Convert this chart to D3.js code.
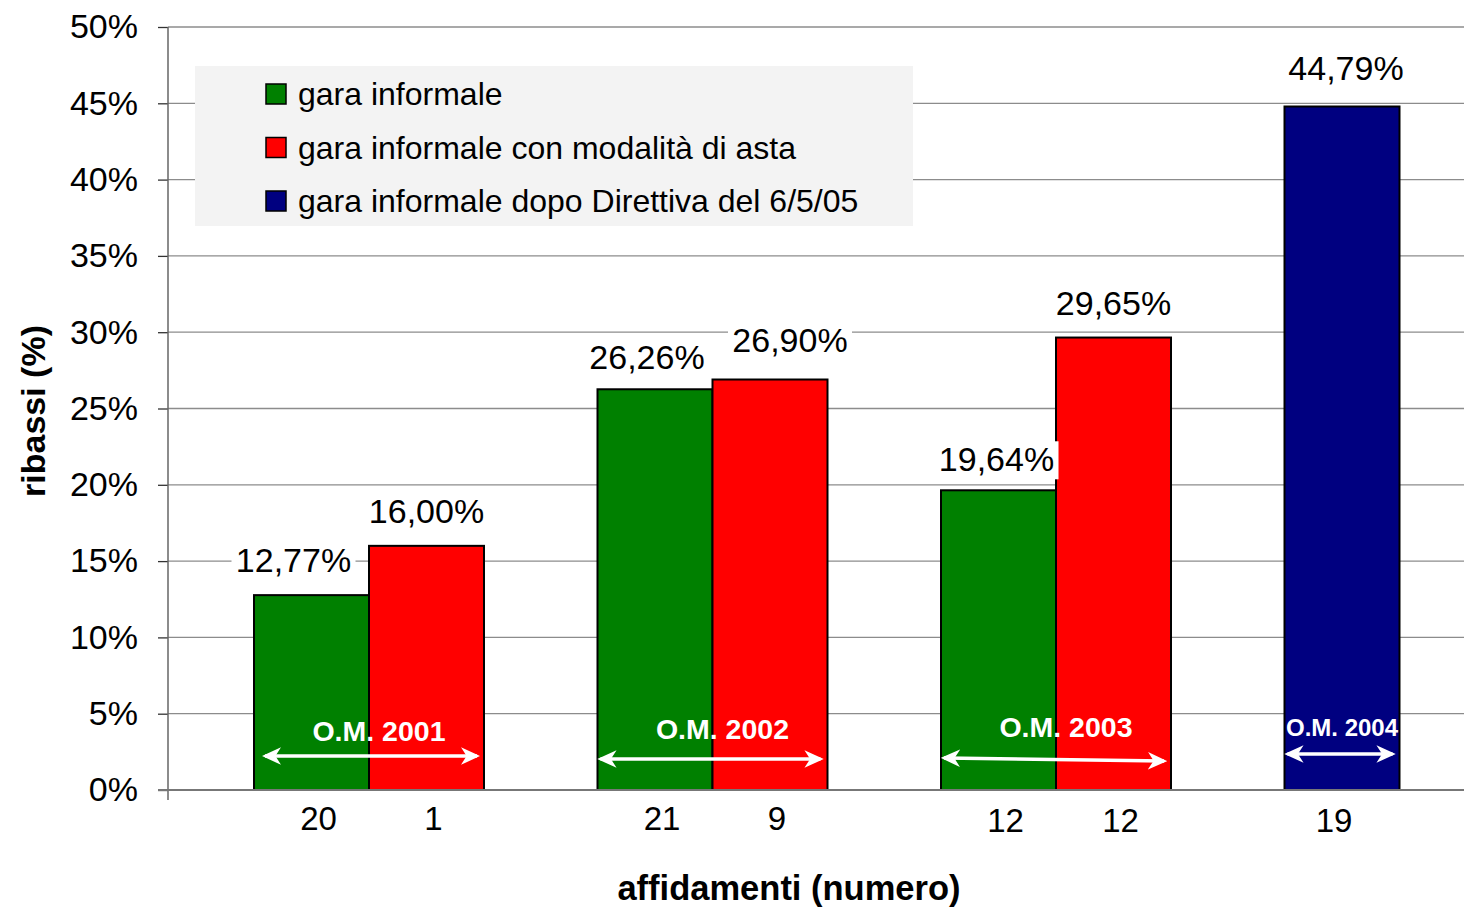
<!DOCTYPE html>
<html>
<head>
<meta charset="utf-8">
<script src="https://cdn.jsdelivr.net/npm/d3@7"></script>
<style>
  body { margin: 0; background: #fff; }
  text { font-family: "Liberation Sans", Arial, sans-serif; }
</style>
</head>
<body>
<div class="container"></div>
<script>
// chart values
var groups = ["O.M. 2001", "O.M. 2002", "O.M. 2003", "O.M. 2004"];
var seriesNames = ["gara informale", "gara informale con modalità di asta", "gara informale dopo Direttiva del 6/5/05"];
var greenValues = [12.77, 26.26, 19.64, null];
var redValues = [16.00, 26.90, 29.65, null];
var blueValues = [null, null, null, 44.79];
var greenCounts = [20, 21, 12, null];
var redCounts = [1, 9, 12, null];
var blueCounts = [null, null, null, 19];
var yTicks = [0, 5, 10, 15, 20, 25, 30, 35, 40, 45, 50];

var W = 1464, H = 908;
var colors = ["#008000", "#ff0000", "#000080"];
// blue bar sits in the first slot of its cluster
var slots = ["a", "b", "a"];
// label nudges (layout only), keyed "series-group"
var labelNudge = { "0-0": [-18, 0], "0-1": [-8, 3], "1-1": [20, -5], "0-2": [-2, 4], "2-3": [4, -4] };

var svg = d3.select('.container').append('svg')
  .attr('width', W).attr('height', H);

var y = d3.scaleLinear().domain([0, 50]).range([790, 27]);
var xGroup = d3.scalePoint().domain(groups).range([369, 1399.5]);
var xSlot = d3.scaleBand().domain(["a", "b"]).range([-115, 115]);

// gridlines
svg.append('g').selectAll('line')
  .data(yTicks.filter(function(d){ return d > 0; }))
  .enter().append('line')
  .attr('x1', 168).attr('x2', W)
  .attr('y1', function(d){ return y(d); })
  .attr('y2', function(d){ return y(d); })
  .attr('stroke', '#8c8c8c').attr('stroke-width', 1.3);

// y axis
var yAxis = d3.axisLeft(y).tickValues(yTicks)
  .tickFormat(function(d){ return d + '%'; })
  .tickSize(10).tickPadding(20);
var ya = svg.append('g').attr('transform', 'translate(168,0)').call(yAxis);
ya.select('.domain').remove();
ya.selectAll('.tick line').attr('stroke', '#333').attr('stroke-width', 1.3);
ya.selectAll('.tick text').attr('font-size', 34).attr('fill', '#000')
  .style('font-family', '"Liberation Sans", Arial, sans-serif');
svg.append('line').attr('x1', 168).attr('x2', 168).attr('y1', 27).attr('y2', 800)
  .attr('stroke', '#666').attr('stroke-width', 1.5);

// legend box
svg.append('rect').attr('x', 195).attr('y', 66).attr('width', 718).attr('height', 160)
  .attr('fill', '#f3f3f3');
var legend = svg.append('g').selectAll('g').data(seriesNames).enter().append('g')
  .attr('transform', function(d, i){ return 'translate(266,' + (94 + i * 53.5) + ')'; });
legend.append('rect').attr('x', 0).attr('y', -10).attr('width', 20).attr('height', 20)
  .attr('fill', function(d, i){ return colors[i]; })
  .attr('stroke', '#000').attr('stroke-width', 1.5);
legend.append('text').attr('x', 32).attr('y', 11)
  .attr('font-size', 32).text(function(d){ return d; });

// bars
var seriesValues = [greenValues, redValues, blueValues];
var seriesCounts = [greenCounts, redCounts, blueCounts];
var bars = [];
seriesValues.forEach(function(vals, s){
  vals.forEach(function(v, i){
    if (v === null) return;
    bars.push({ s: s, i: i, g: groups[i], v: v, n: seriesCounts[s][i] });
  });
});
function barX(d){ return xGroup(d.g) + xSlot(slots[d.s]); }

svg.append('g').selectAll('rect').data(bars).enter().append('rect')
  .attr('x', barX)
  .attr('y', function(d){ return y(d.v); })
  .attr('width', xSlot.bandwidth())
  .attr('height', function(d){ return y(0) - y(d.v); })
  .attr('fill', function(d){ return colors[d.s]; })
  .attr('stroke', '#000').attr('stroke-width', 2);

// baseline
svg.append('line').attr('x1', 158).attr('x2', W).attr('y1', y(0)).attr('y2', y(0))
  .attr('stroke', '#777').attr('stroke-width', 2);

// value labels with white background
var fmt = function(v){ return v.toFixed(2).replace('.', ',') + '%'; };
var vl = svg.append('g').selectAll('g').data(bars).enter().append('g')
  .attr('transform', function(d){
    var nd = labelNudge[d.s + '-' + d.i] || [0, 0];
    return 'translate(' + (barX(d) + xSlot.bandwidth() / 2 + nd[0]) + ',' + (y(d.v) - 23 + nd[1]) + ')';
  });
vl.append('rect').attr('x', -62).attr('y', -30).attr('width', 124).attr('height', 38)
  .attr('fill', '#fff');
vl.append('text').attr('text-anchor', 'middle').attr('font-size', 34)
  .text(function(d){ return fmt(d.v); });

// counts under bars
svg.append('g').selectAll('text').data(bars).enter().append('text')
  .attr('x', function(d){ return barX(d) + xSlot.bandwidth() / 2 + (d.s === 2 ? -8 : 7); })
  .attr('y', function(d){ return 830 + (d.i >= 2 ? 2 : 0); })
  .attr('text-anchor', 'middle').attr('font-size', 33)
  .text(function(d){ return d.n; });

// O.M. labels with double arrows
var defs = svg.append('defs');
defs.append('marker').attr('id', 'arr')
  .attr('viewBox', '0 -6 12 12').attr('refX', 10).attr('refY', 0)
  .attr('markerWidth', 5.5).attr('markerHeight', 5.5)
  .attr('orient', 'auto-start-reverse')
  .attr('markerUnits', 'strokeWidth')
  .append('path').attr('d', 'M0,-5.5L12,0L0,5.5L3.5,0Z').attr('fill', '#fff');
var arrowY = [756, 759, 758, 754];
var textY = [741, 739, 737, 736];
var spans = groups.map(function(g, i){
  var n = i < 3 ? 2 : 1;
  return { g: g, i: i, x0: xGroup(g) - 115, x1: xGroup(g) - 115 + n * 115, big: i < 3 };
});
var om = svg.append('g').selectAll('g').data(spans).enter().append('g');
om.append('text')
  .attr('x', function(d){ return (d.x0 + d.x1) / 2 + (d.big ? 10 : 0); })
  .attr('y', function(d){ return textY[d.i]; })
  .attr('text-anchor', 'middle').attr('font-weight', 'bold')
  .attr('font-size', function(d){ return d.big ? 28.5 : 24; })
  .attr('fill', '#fff').text(function(d){ return d.g; });
om.append('line')
  .attr('x1', function(d){ return d.x0 + (d.i === 0 ? 11 : 3); })
  .attr('x2', function(d){ return d.x1 - 7; })
  .attr('y1', function(d){ return arrowY[d.i]; })
  .attr('y2', function(d){ return arrowY[d.i] + (d.i === 2 ? 3 : 0); })
  .attr('stroke', '#fff').attr('stroke-width', 3.5)
  .attr('marker-start', 'url(#arr)').attr('marker-end', 'url(#arr)');

// axis titles
svg.append('text').attr('x', 789).attr('y', 900).attr('text-anchor', 'middle')
  .attr('font-size', 34.5).attr('font-weight', 'bold').text('affidamenti (numero)');
svg.append('text').attr('transform', 'translate(45,411) rotate(-90)')
  .attr('text-anchor', 'middle').attr('font-size', 34).attr('font-weight', 'bold')
  .text('ribassi (%)');
</script>
</body>
</html>
